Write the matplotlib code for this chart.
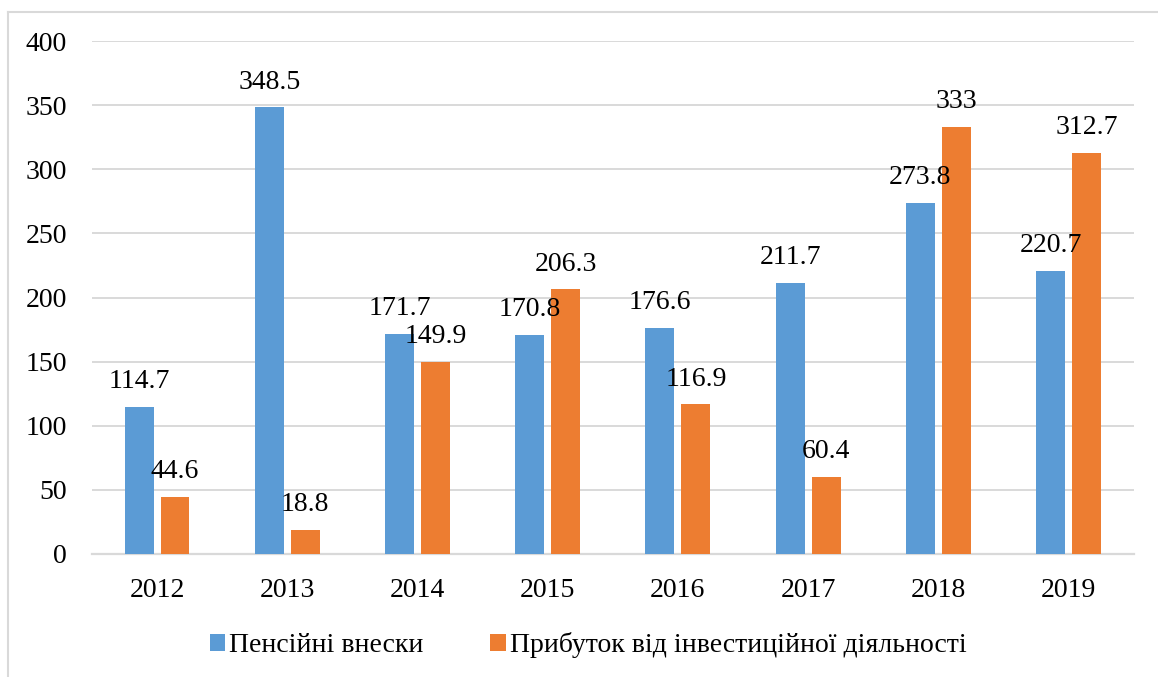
import numpy as np
import matplotlib
matplotlib.use("Agg")
import matplotlib.pyplot as plt
from matplotlib.lines import Line2D

# --- chart data -------------------------------------------------------------
years = ["2012", "2013", "2014", "2015", "2016", "2017", "2018", "2019"]
pension_contrib = [114.7, 348.5, 171.7, 170.8, 176.6, 211.7, 273.8, 220.7]
invest_income = [44.6, 18.8, 149.9, 206.3, 116.9, 60.4, 333, 312.7]
series_names = ["Пенсійні внески", "Прибуток від інвестиційної діяльності"]
y_ticks = [0, 50, 100, 150, 200, 250, 300, 350, 400]

BLUE = "#5B9BD5"
ORANGE = "#ED7D31"
GRID = "#D9D9D9"
FONT = 20

plt.rcParams["font.family"] = ["Liberation Serif", "DejaVu Serif"]

fig = plt.figure(figsize=(11.58, 6.77), dpi=100)
ax = fig.add_axes([0.0794, 0.1817, 0.8996, 0.7577])

x = np.arange(len(years))
w = 0.222
off = 0.138
b1 = ax.bar(x - off, pension_contrib, w, color=BLUE, label=series_names[0], zorder=3)
b2 = ax.bar(x + off, invest_income, w, color=ORANGE, label=series_names[1], zorder=3)

# value labels sit a fixed distance above each bar
for bars, vals in ((b1, pension_contrib), (b2, invest_income)):
    for rect, v in zip(bars, vals):
        ax.annotate(f"{v:g}", (rect.get_x() + rect.get_width() / 2, rect.get_height()),
                    xytext=(0, 18), textcoords="offset points",
                    ha="center", va="center", fontsize=FONT, zorder=4)

ax.set_xlim(-0.5, len(years) - 0.5)
ax.set_ylim(0, 400)
ax.set_yticks(y_ticks)
ax.set_xticks(x)
ax.set_xticklabels(years)
ax.tick_params(axis="both", length=0, labelsize=FONT)
ax.tick_params(axis="y", pad=18)
ax.tick_params(axis="x", pad=17)
ax.yaxis.grid(True, color=GRID, linewidth=1.4, zorder=0)
ax.set_axisbelow(True)
for side in ("top", "right", "left"):
    ax.spines[side].set_visible(False)
ax.spines["bottom"].set_color(GRID)
ax.spines["bottom"].set_linewidth(1.6)

fig.legend(handles=[b1, b2], loc="center", bbox_to_anchor=(0.508, 1 - 645 / 677),
           ncol=2, frameon=False, fontsize=FONT, handlelength=0.55, handleheight=0.55,
           handletextpad=0.15, columnspacing=2.4)

# outer chart frame (only top and left edges are visible in the crop)
fig.add_artist(Line2D([8 / 1158, 1.0], [1 - 12 / 677] * 2, transform=fig.transFigure,
                      color=GRID, linewidth=1.5))
fig.add_artist(Line2D([8 / 1158] * 2, [0.0, 1 - 12 / 677], transform=fig.transFigure,
                      color=GRID, linewidth=1.5))

fig.savefig("out.png", dpi=100, facecolor="white")
